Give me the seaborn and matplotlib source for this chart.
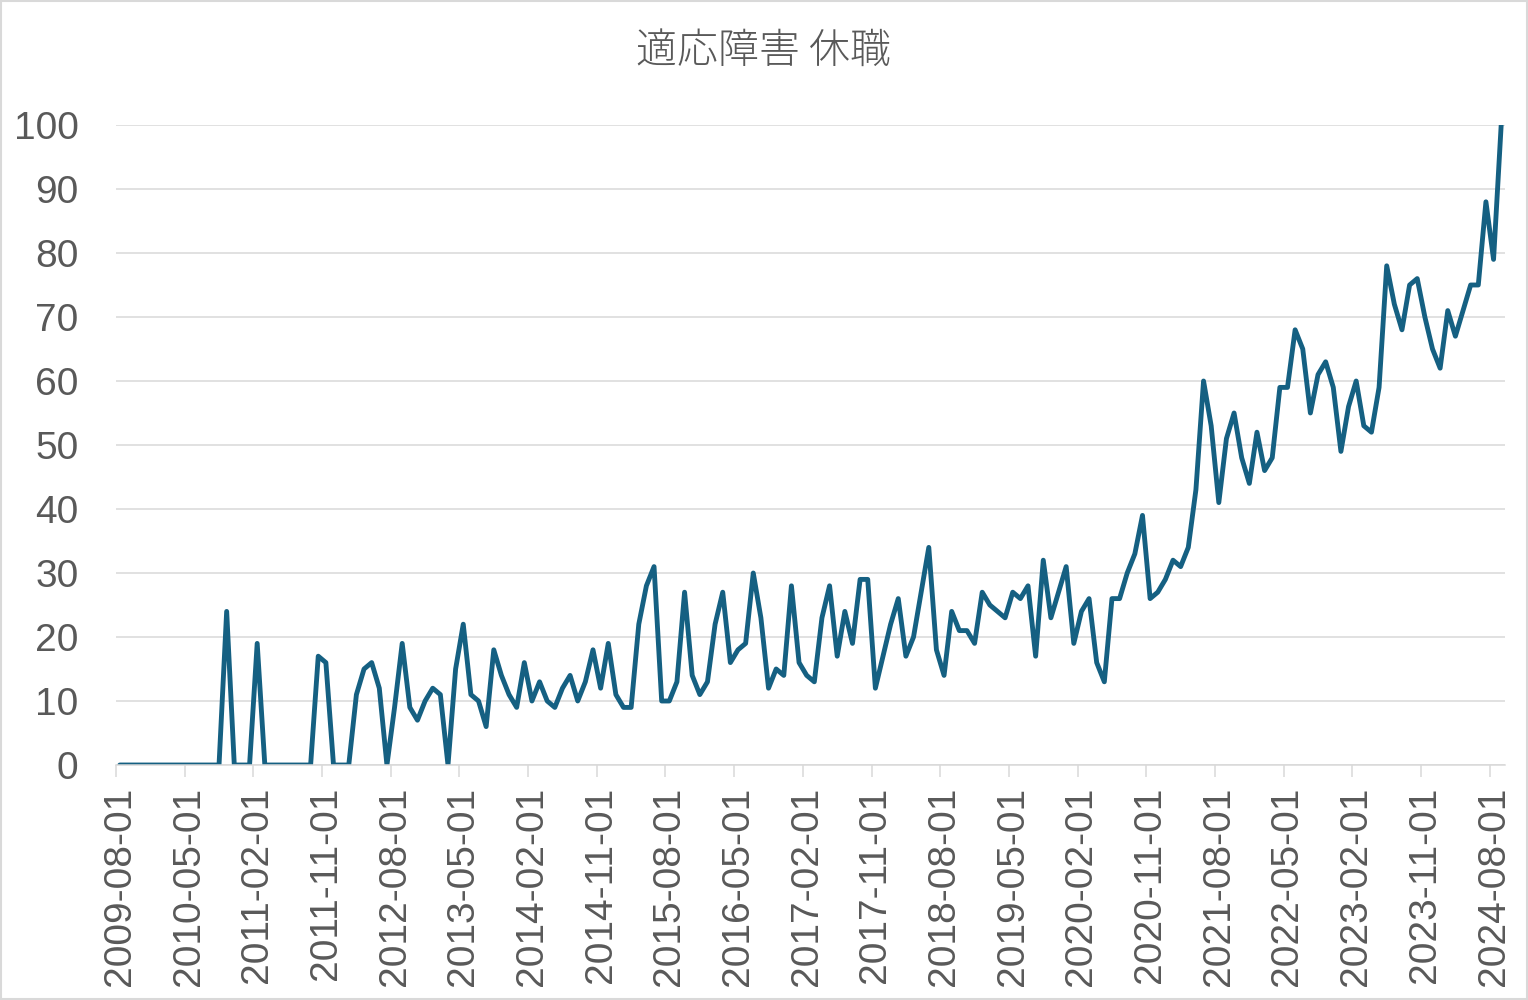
import matplotlib
matplotlib.use("Agg")
import matplotlib.pyplot as plt
import seaborn as sns
import pandas as pd
import numpy as np
from matplotlib.patches import Rectangle

title = "適応障害 休職"
start_month = "2009-08-01"
values = [
    0, 0, 0, 0, 0, 0, 0, 0, 0, 0, 0, 0, 0, 0, 24, 0, 0, 0, 19, 0,
    0, 0, 0, 0, 0, 0, 17, 16, 0, 0, 0, 11, 15, 16, 12, 0, 9, 19, 9, 7,
    10, 12, 11, 0, 15, 22, 11, 10, 6, 18, 14, 11, 9, 16, 10, 13, 10, 9, 12, 14,
    10, 13, 18, 12, 19, 11, 9, 9, 22, 28, 31, 10, 10, 13, 27, 14, 11, 13, 22, 27,
    16, 18, 19, 30, 23, 12, 15, 14, 28, 16, 14, 13, 23, 28, 17, 24, 19, 29, 29, 12,
    17, 22, 26, 17, 20, 27, 34, 18, 14, 24, 21, 21, 19, 27, 25, 24, 23, 27, 26, 28,
    17, 32, 23, 27, 31, 19, 24, 26, 16, 13, 26, 26, 30, 33, 39, 26, 27, 29, 32, 31,
    34, 43, 60, 53, 41, 51, 55, 48, 44, 52, 46, 48, 59, 59, 68, 65, 55, 61, 63, 59,
    49, 56, 60, 53, 52, 59, 78, 72, 68, 75, 76, 70, 65, 62, 71, 67, 71, 75, 75, 88,
    79, 100,
]
dates = pd.date_range(start_month, periods=len(values), freq="MS")
date_labels = [d.strftime("%Y-%m-%d") for d in dates]
label_step = 9

df = pd.DataFrame({"idx": np.arange(len(values)), "value": values, "date": date_labels})

sns.set_theme(style="white")
plt.rcParams["font.family"] = ["Liberation Sans", "Noto Sans CJK JP", "DejaVu Sans"]

LINE = "#156082"
GRID = "#d9d9d9"
TXT = "#595959"

fig = plt.figure(figsize=(15.28, 10.0), dpi=100)
ax = fig.add_axes([116 / 1528, 0.235, (1505 - 116) / 1528, 0.64])

sns.lineplot(data=df, x="idx", y="value", ax=ax, color=LINE, linewidth=3.5,
             solid_joinstyle="round", solid_capstyle="round")

n = len(values)
ax.set_xlim(-0.5, n - 0.5)
ax.set_ylim(0, 100)
ax.set_yticks(np.arange(0, 101, 10))
ax.yaxis.grid(True, color=GRID, linewidth=1.1)
ax.xaxis.grid(False)
ax.set_axisbelow(True)

major = np.arange(0, n, label_step)
ax.set_xticks(major)
ax.set_xticklabels([date_labels[i] for i in major], rotation=90, ha="center", va="top")
ax.set_xticks(major - 0.5, minor=True)
ax.tick_params(axis="x", which="major", length=0, pad=15.5, labelsize=28, labelcolor=TXT)
ax.tick_params(axis="x", which="minor", bottom=True, length=8.5, width=1.1, color=GRID)
ax.tick_params(axis="y", length=0, pad=27, labelsize=28, labelcolor=TXT)

for s in ["top", "right", "left"]:
    ax.spines[s].set_visible(False)
ax.spines["bottom"].set_color(GRID)
ax.spines["bottom"].set_linewidth(1.1)
ax.set_xlabel("")
ax.set_ylabel("")

fig.text(0.5, 0.949, title, ha="center", va="center", fontsize=29.5, color=TXT,
         fontweight="light", family=["Noto Sans CJK JP", "DejaVu Sans"])

fig.patches.append(Rectangle((0.0005, 0.0008), 0.999, 0.9985, transform=fig.transFigure,
                             fill=False, edgecolor=GRID, linewidth=1.5))

fig.savefig("out.png", dpi=100)
